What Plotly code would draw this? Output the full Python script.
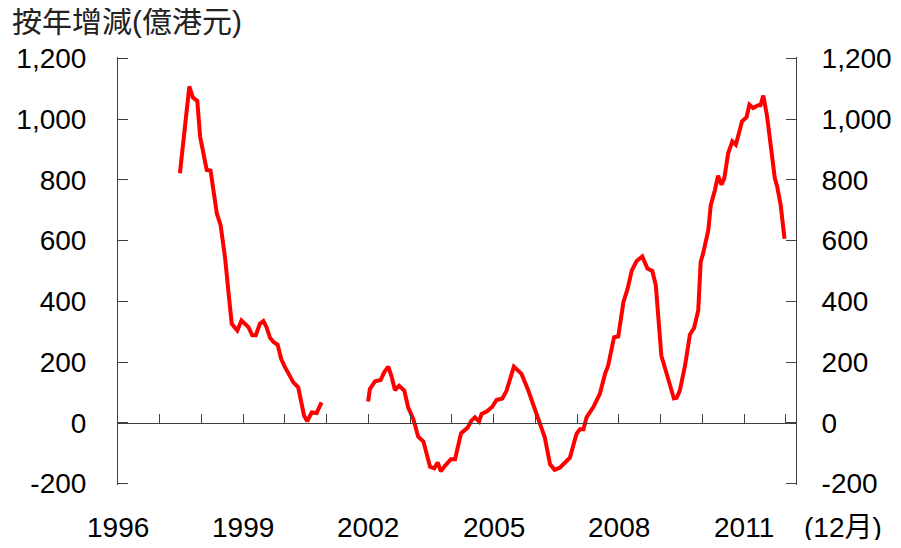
import plotly.graph_objects as go

# Month offsets measured from December 1996 (tick 0) and year-on-year change (HK$ 100 million)
seg1_months = [17.8, 20.5, 21.5, 22.8, 23.6, 25.5, 26.6, 28.4, 29.5, 30.8, 31.7, 32.7, 34.3, 35.5,
               37.5, 38.6, 39.6, 40.8, 41.8, 42.7, 43.7, 44.7, 45.9, 46.9, 48.0, 49.2, 50.4, 51.8,
               52.8, 53.5, 54.4, 55.7, 57.1, 58.5]
seg1_values = [822, 1108, 1072, 1060, 943, 833, 831, 690, 651, 542, 436, 326, 304, 337,
               315, 288, 288, 326, 335, 315, 280, 266, 257, 211, 183, 161, 133, 117,
               67, 23, 5, 34, 32, 67]

seg2_months = [71.9, 72.4, 73.9, 75.5, 76.5, 77.7, 78.7, 79.6, 80.8, 82.3, 83.4, 84.9, 86.3, 87.8,
               89.7, 90.9, 91.9, 92.8, 94.0, 95.7, 96.9, 98.6, 100.5, 101.6, 102.6, 103.8, 104.5,
               106.0, 107.6, 108.8, 110.5, 111.7, 113.8, 116.0, 117.9, 119.9, 120.6, 122.7, 124.2,
               125.5, 127.0, 129.9, 131.8, 132.8, 133.8, 134.7, 136.6, 138.5, 140.0, 140.9, 142.6,
               143.8, 145.3, 146.5, 147.7, 149.1, 150.7, 152.2, 153.6, 154.6, 156.2, 157.7, 159.8,
               160.6, 161.5, 163.0, 164.4, 165.6, 166.8, 167.5, 168.2, 169.7, 170.4, 171.6, 172.5,
               173.5, 174.3, 175.4, 176.6, 177.6, 179.4, 180.7, 181.5, 182.6, 184.0, 184.7, 185.5,
               186.6, 188.8, 189.5, 190.5, 191.6]
seg2_values = [70, 111, 137, 141, 166, 185, 150, 108, 122, 106, 51, 12, -46, -62,
               -145, -150, -131, -160, -142, -120, -120, -35, -16, 7, 18, 4, 29,
               37, 53, 75, 80, 106, 185, 161, 108, 40, 23, -49, -137,
               -155, -148, -115, -37, -21, -21, 18, 51, 95, 161, 188, 282,
               284, 398, 442, 502, 533, 548, 508, 500, 453, 221, 161, 80,
               82, 106, 188, 290, 312, 370, 530, 558, 635, 717, 767, 814,
               784, 806, 888, 927, 916, 993, 1007, 1048, 1037, 1046, 1046, 1078,
               1009, 806, 778, 717, 606]

year_tick_months = [12 * i for i in range(17)]
label_months = [0, 36, 72, 108, 144, 180]
label_text = ["1996", "1999", "2002", "2005", "2008", "2011"]
y_ticks = [-200, 0, 200, 400, 600, 800, 1000, 1200]
y_tick_text = ["-200", "0", "200", "400", "600", "800", "1,000", "1,200"]

title_text = "按年增減(億港元)"
unit_text = "(12月)"

x_all = seg1_months + [None] + seg2_months
y_all = seg1_values + [None] + seg2_values

FONT = "Liberation Sans, Arial, Noto Sans CJK TC, sans-serif"
AXC = "#404040"

# page body has an 8px margin: figure is sized so that the whole page is 901x548
W, H = 885, 532
Y_RANGE = [-205, 1205]   # small pad so the end ticks (-200, 1,200) are drawn
PLOT_H = 424 * (Y_RANGE[1] - Y_RANGE[0]) / 1400
PAD_PX = (PLOT_H - 424) / 2

fig = go.Figure()
fig.add_trace(go.Scatter(x=x_all, y=y_all, mode="lines",
                         line=dict(color="#FF0000", width=4),
                         connectgaps=False, showlegend=False, hoverinfo="skip"))
fig.add_trace(go.Scatter(x=x_all, y=y_all, mode="lines", yaxis="y2",
                         line=dict(color="rgba(0,0,0,0)", width=1),
                         showlegend=False, hoverinfo="skip"))

fig.update_layout(
    width=W, height=H,
    margin=dict(l=110, r=97, t=51 - PAD_PX, b=57 - PAD_PX, pad=0, autoexpand=False),
    plot_bgcolor="white", paper_bgcolor="white",
    font=dict(family=FONT, size=28, color="black"),
    title=dict(text=title_text, x=4 / W, xanchor="left", xref="container",
               y=1 - 13 / H, yanchor="middle", yref="container",
               font=dict(family=FONT, size=30, color="#222222")),
    xaxis=dict(range=[0, 194.9], tickvals=year_tick_months, showticklabels=False,
               ticks="inside", ticklen=9, tickcolor=AXC, tickwidth=1,
               showline=True, linecolor=AXC, linewidth=1, showgrid=False, zeroline=False,
               anchor="free", position=(0 - Y_RANGE[0]) / (Y_RANGE[1] - Y_RANGE[0]),
               automargin=False),
    yaxis=dict(range=Y_RANGE, tickvals=y_ticks, ticktext=y_tick_text,
               ticks="inside", ticklen=10, tickcolor=AXC, tickwidth=1,
               showline=True, linecolor=AXC, linewidth=1, showgrid=False, zeroline=False,
               ticklabelstandoff=25, automargin=False),
    yaxis2=dict(range=Y_RANGE, tickvals=y_ticks, ticktext=y_tick_text,
                overlaying="y", side="right", anchor="x",
                ticks="inside", ticklen=10, tickcolor=AXC, tickwidth=1,
                showline=True, linecolor=AXC, linewidth=1, showgrid=False, zeroline=False,
                ticklabelstandoff=19, automargin=False),
)

label_y = -(44 - PAD_PX) / PLOT_H
for m, t in zip(label_months, label_text):
    fig.add_annotation(x=m, xref="x", y=label_y, yref="paper", text=t,
                       showarrow=False, xanchor="center", yanchor="middle",
                       font=dict(family=FONT, size=28, color="black"))
fig.add_annotation(x=(843 - 118) / 678, xref="paper", y=label_y, yref="paper", text=unit_text,
                   showarrow=False, xanchor="center", yanchor="middle",
                   font=dict(family=FONT, size=28, color="black"))

fig.write_html("out.html")
